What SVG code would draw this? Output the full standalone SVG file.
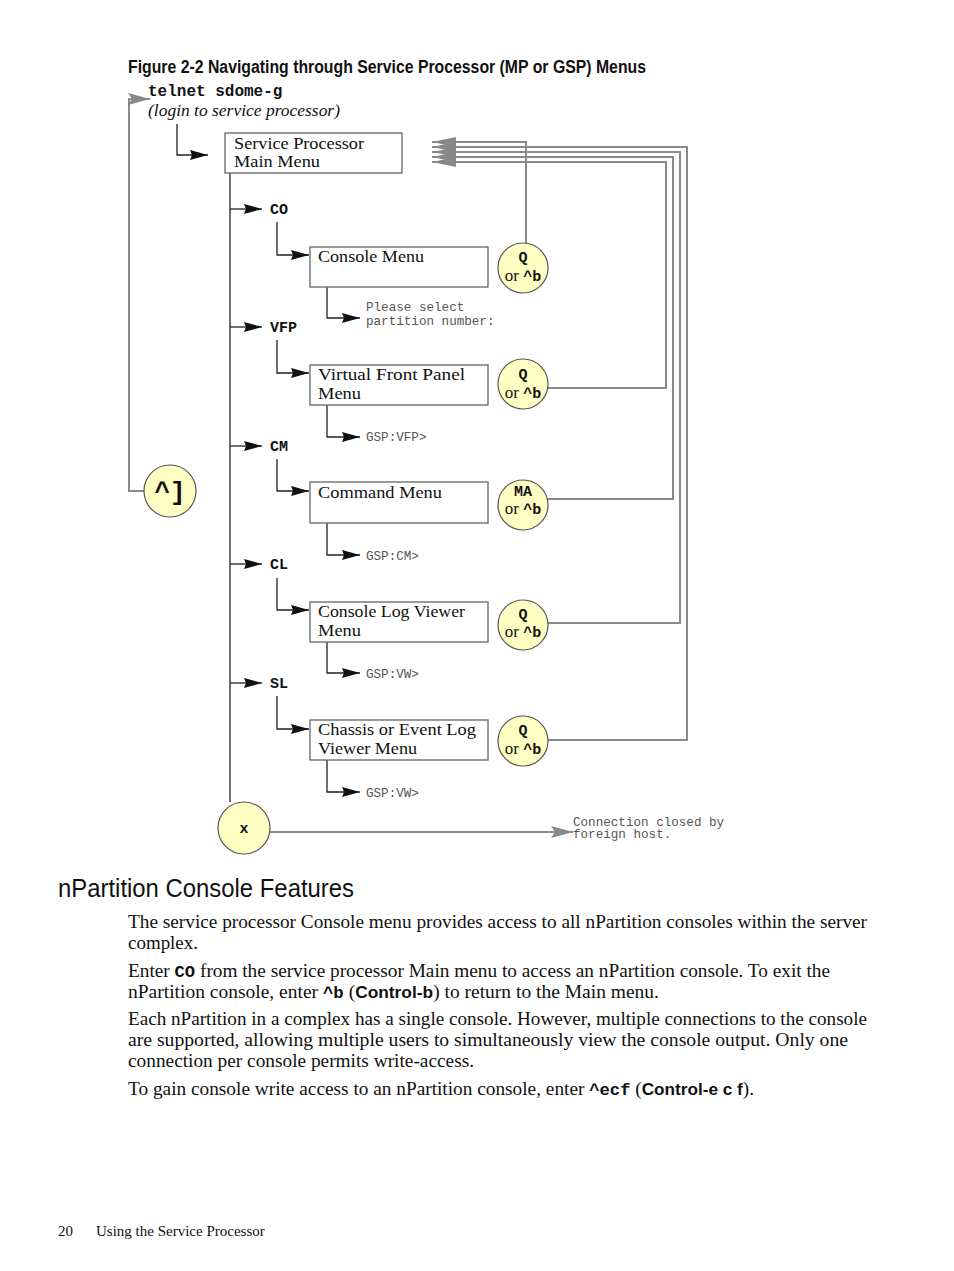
<svg xmlns="http://www.w3.org/2000/svg" width="954" height="1271" viewBox="0 0 954 1271">
<defs>
<style>
.ln{fill:none;stroke:#222;stroke-width:1.3}
.gl{fill:none;stroke:#8a8a8a;stroke-width:2}
.box{fill:#fff;stroke:#666;stroke-width:1.3}
.cir{fill:#ffffc4;stroke:#555;stroke-width:1.2}
.mt{font-family:"Liberation Serif",serif;font-size:17px;fill:#111}
.cmd{font-family:"Liberation Mono",monospace;font-weight:bold;font-size:15px;fill:#111}
.out{font-family:"Liberation Mono",monospace;font-size:12.6px;fill:#555}
.orr{font-family:"Liberation Serif",serif;font-size:17px}
.body{font-family:"Liberation Serif",serif;font-size:18px;fill:#111}
.cb{font-family:"Liberation Mono",monospace;font-weight:bold;font-size:16px}
.sb{font-family:"Liberation Sans",sans-serif;font-weight:bold;font-size:16px}
</style>
<marker id="ab" markerWidth="18" markerHeight="10" refX="18" refY="5" orient="auto" markerUnits="userSpaceOnUse"><path d="M0,0 L18,5 L0,10 L2,5 Z" fill="#111"/></marker>
<marker id="ag" markerWidth="22" markerHeight="12" refX="22" refY="6" orient="auto" markerUnits="userSpaceOnUse"><path d="M0,0 L22,6 L0,12 L4,6 Z" fill="#888"/></marker>
<marker id="ar" markerWidth="24" markerHeight="10" refX="24" refY="5" orient="auto" markerUnits="userSpaceOnUse"><path d="M0,0 L24,5 L0,10 Z" fill="#888"/></marker>
</defs>
<rect width="954" height="1271" fill="#fff"/>

<text x="128" y="73" font-family="Liberation Sans Narrow, Liberation Sans, sans-serif" font-weight="bold" font-size="18" textLength="518" lengthAdjust="spacingAndGlyphs" fill="#111">Figure 2-2 Navigating through Service Processor (MP or GSP) Menus</text>

<g id="connectors">
<path class="gl" d="M144,491 H129 V99 H150" marker-end="url(#ag)"/>
<path class="ln" d="M177,124 V155 H208" marker-end="url(#ab)"/>
<path class="ln" d="M230,173 V802"/>
<path class="ln" d="M230,209 H262" marker-end="url(#ab)"/>
<path class="ln" d="M230,327 H262" marker-end="url(#ab)"/>
<path class="ln" d="M230,446 H262" marker-end="url(#ab)"/>
<path class="ln" d="M230,564 H262" marker-end="url(#ab)"/>
<path class="ln" d="M230,683 H262" marker-end="url(#ab)"/>
<path class="ln" d="M277,222 V255 H309" marker-end="url(#ab)"/>
<path class="ln" d="M277,340 V373 H309" marker-end="url(#ab)"/>
<path class="ln" d="M277,459 V491 H309" marker-end="url(#ab)"/>
<path class="ln" d="M277,578 V610 H309" marker-end="url(#ab)"/>
<path class="ln" d="M277,696 V729 H309" marker-end="url(#ab)"/>
<path class="ln" d="M327,287 V318 H360" marker-end="url(#ab)"/>
<path class="ln" d="M327,405 V437 H360" marker-end="url(#ab)"/>
<path class="ln" d="M327,523 V555 H360" marker-end="url(#ab)"/>
<path class="ln" d="M327,642 V673 H360" marker-end="url(#ab)"/>
<path class="ln" d="M327,760 V792 H360" marker-end="url(#ab)"/>
<path class="gl" d="M526,243 V142 H432" marker-end="url(#ar)"/>
<path class="gl" d="M548,740 H687 V147 H432" marker-end="url(#ar)"/>
<path class="gl" d="M548,623 H680 V152 H432" marker-end="url(#ar)"/>
<path class="gl" d="M548,499 H673 V157 H432" marker-end="url(#ar)"/>
<path class="gl" d="M548,388 H666 V162 H432" marker-end="url(#ar)"/>
<path class="gl" d="M270,832 H573" marker-end="url(#ag)"/>
</g>

<g id="login">
<text x="148" y="96" font-family="Liberation Mono, monospace" font-weight="bold" font-size="16" fill="#111">telnet sdome-g</text>
<text x="148" y="116" font-family="Liberation Serif, serif" font-style="italic" font-size="17" textLength="192" lengthAdjust="spacingAndGlyphs" fill="#111">(login to service processor)</text>
</g>

<g id="main-menu">
<rect class="box" x="225" y="133" width="177" height="40"/>
<text class="mt" x="234" y="149" textLength="130" lengthAdjust="spacingAndGlyphs">Service Processor</text>
<text class="mt" x="234" y="167" textLength="86" lengthAdjust="spacingAndGlyphs">Main Menu</text>
</g>

<g id="cmd-labels">
<text class="cmd" x="270" y="214">CO</text>
<text class="cmd" x="270" y="332">VFP</text>
<text class="cmd" x="270" y="451">CM</text>
<text class="cmd" x="270" y="569">CL</text>
<text class="cmd" x="270" y="688">SL</text>
</g>

<g id="console-menu">
<rect class="box" x="310" y="247" width="178" height="40"/>
<text class="mt" x="318" y="262" textLength="106" lengthAdjust="spacingAndGlyphs">Console Menu</text>
<text class="out" x="366" y="311">Please select</text>
<text class="out" x="366" y="325">partition number:</text>
</g>
<g id="vfp-menu">
<rect class="box" x="310" y="365" width="178" height="40"/>
<text class="mt" x="318" y="380" textLength="147" lengthAdjust="spacingAndGlyphs">Virtual Front Panel</text>
<text class="mt" x="318" y="399" textLength="43" lengthAdjust="spacingAndGlyphs">Menu</text>
<text class="out" x="366" y="441">GSP:VFP&gt;</text>
</g>
<g id="command-menu">
<rect class="box" x="310" y="482" width="178" height="41"/>
<text class="mt" x="318" y="498" textLength="124" lengthAdjust="spacingAndGlyphs">Command Menu</text>
<text class="out" x="366" y="560">GSP:CM&gt;</text>
</g>
<g id="clv-menu">
<rect class="box" x="310" y="602" width="178" height="40"/>
<text class="mt" x="318" y="617" textLength="147" lengthAdjust="spacingAndGlyphs">Console Log Viewer</text>
<text class="mt" x="318" y="636" textLength="43" lengthAdjust="spacingAndGlyphs">Menu</text>
<text class="out" x="366" y="678">GSP:VW&gt;</text>
</g>
<g id="cel-menu">
<rect class="box" x="310" y="720" width="178" height="40"/>
<text class="mt" x="318" y="735" textLength="158" lengthAdjust="spacingAndGlyphs">Chassis or Event Log</text>
<text class="mt" x="318" y="754" textLength="99" lengthAdjust="spacingAndGlyphs">Viewer Menu</text>
<text class="out" x="366" y="797">GSP:VW&gt;</text>
</g>

<g id="exit-co">
<circle class="cir" cx="523" cy="268" r="25"/>
<text class="cmd" x="523" y="262" text-anchor="middle">Q</text>
<text x="523" y="281" text-anchor="middle" fill="#111"><tspan class="orr">or </tspan><tspan class="cmd">^b</tspan></text>
</g>
<g id="exit-vfp">
<circle class="cir" cx="523" cy="384" r="25"/>
<text class="cmd" x="523" y="379" text-anchor="middle">Q</text>
<text x="523" y="398" text-anchor="middle" fill="#111"><tspan class="orr">or </tspan><tspan class="cmd">^b</tspan></text>
</g>
<g id="exit-cm">
<circle class="cir" cx="523" cy="505" r="25"/>
<text class="cmd" x="523" y="496" text-anchor="middle">MA</text>
<text x="523" y="514" text-anchor="middle" fill="#111"><tspan class="orr">or </tspan><tspan class="cmd">^b</tspan></text>
</g>
<g id="exit-cl">
<circle class="cir" cx="523" cy="625" r="25"/>
<text class="cmd" x="523" y="619" text-anchor="middle">Q</text>
<text x="523" y="637" text-anchor="middle" fill="#111"><tspan class="orr">or </tspan><tspan class="cmd">^b</tspan></text>
</g>
<g id="exit-sl">
<circle class="cir" cx="523" cy="741" r="25"/>
<text class="cmd" x="523" y="735" text-anchor="middle">Q</text>
<text x="523" y="754" text-anchor="middle" fill="#111"><tspan class="orr">or </tspan><tspan class="cmd">^b</tspan></text>
</g>

<g id="escape">
<circle class="cir" cx="170" cy="491" r="26"/>
<text x="170" y="500" text-anchor="middle" font-family="Liberation Mono, monospace" font-weight="bold" font-size="26" fill="#111">^]</text>
</g>
<g id="exit-x">
<circle class="cir" cx="244" cy="828" r="26"/>
<text class="cmd" x="244" y="833" text-anchor="middle" font-size="16">x</text>
</g>
<g id="closed">
<text class="out" x="573" y="826">Connection closed by</text>
<text class="out" x="573" y="838">foreign host.</text>
</g>

<text x="58" y="897" font-family="Liberation Sans, sans-serif" font-size="25" textLength="296" lengthAdjust="spacingAndGlyphs" fill="#111">nPartition Console Features</text>

<text class="body" x="128" y="928" textLength="739" lengthAdjust="spacingAndGlyphs">The service processor Console menu provides access to all nPartition consoles within the server</text>
<text class="body" x="128" y="949" textLength="70" lengthAdjust="spacingAndGlyphs">complex.</text>
<text class="body" x="128" y="977" textLength="702" lengthAdjust="spacingAndGlyphs">Enter <tspan class="cb" font-size="15">CO</tspan> from the service processor Main menu to access an nPartition console. To exit the</text>
<text class="body" x="128" y="998" textLength="531" lengthAdjust="spacingAndGlyphs">nPartition console, enter <tspan class="cb" font-size="15">^b</tspan> (<tspan class="sb">Control-b</tspan>) to return to the Main menu.</text>
<text class="body" x="128" y="1025" textLength="739" lengthAdjust="spacingAndGlyphs">Each nPartition in a complex has a single console. However, multiple connections to the console</text>
<text class="body" x="128" y="1046" textLength="720" lengthAdjust="spacingAndGlyphs">are supported, allowing multiple users to simultaneously view the console output. Only one</text>
<text class="body" x="128" y="1067" textLength="346" lengthAdjust="spacingAndGlyphs">connection per console permits write-access.</text>
<text class="body" x="128" y="1095" textLength="626" lengthAdjust="spacingAndGlyphs">To gain console write access to an nPartition console, enter <tspan class="cb" font-size="15">^ecf</tspan> (<tspan class="sb">Control-e c f</tspan>).</text>

<text x="58" y="1236" font-family="Liberation Serif, serif" font-size="15" fill="#111">20</text>
<text x="96" y="1236" font-family="Liberation Serif, serif" font-size="15" fill="#111">Using the Service Processor</text>
</svg>
